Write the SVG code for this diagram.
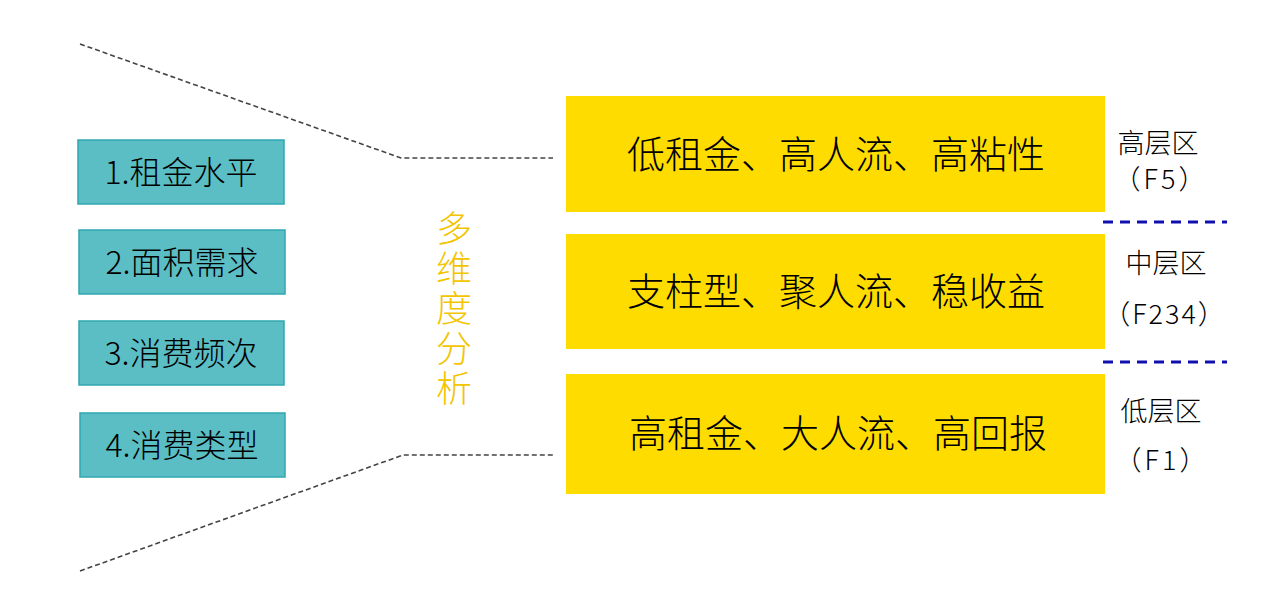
<svg xmlns="http://www.w3.org/2000/svg" width="1280" height="608" viewBox="0 0 1280 608">
<style>
.teal{fill:#5BBEC5;stroke:#2FA7B0;stroke-width:1.5}
.yel{fill:#FFDC00}
.tt{font-family:"Noto Sans CJK SC","Noto Sans",sans-serif;font-size:32px;font-weight:300;fill:#000;text-anchor:middle}
.yt{font-family:"Noto Sans CJK SC","Noto Sans",sans-serif;font-size:38px;font-weight:300;fill:#000;text-anchor:middle}
.vt{font-family:"Noto Sans CJK SC","Noto Sans",sans-serif;font-size:36px;fill:#F2C500;font-weight:300;writing-mode:vertical-rl;letter-spacing:4px}
.rt{font-family:"Noto Sans CJK SC","Liberation Sans",sans-serif;font-size:27px;font-weight:300;fill:#000;text-anchor:middle}
.gd{fill:none;stroke:#444;stroke-width:1.6;stroke-dasharray:5 3}
.bd{fill:none;stroke:#1010B0;stroke-width:3;stroke-dasharray:10 7}
</style>
<rect width="1280" height="608" fill="#fff"/>
<g id="connectors">
<polyline class="gd" points="80,44 401,158 553,158"/>
<polyline class="gd" points="80,571 403,455 553,455"/>
<line class="bd" x1="1103" y1="222" x2="1227" y2="222"/>
<line class="bd" x1="1103" y1="362" x2="1227" y2="362"/>
</g>
<g id="n1"><rect class="teal" x="78" y="140" width="206" height="64"/><text class="tt" x="181" y="184">1.租金水平</text></g>
<g id="n2"><rect class="teal" x="79" y="230" width="206" height="64"/><text class="tt" x="182" y="274">2.面积需求</text></g>
<g id="n3"><rect class="teal" x="79" y="321" width="205" height="64"/><text class="tt" x="181" y="365">3.消费频次</text></g>
<g id="n4"><rect class="teal" x="80" y="413" width="205" height="64"/><text class="tt" x="182" y="457">4.消费类型</text></g>
<g id="vlabel">
<text class="vt" x="454" y="210">多维度分析</text>
</g>
<g id="y1"><rect class="yel" x="566" y="96" width="539" height="116"/><text class="yt" x="836" y="168">低租金、高人流、高粘性</text></g>
<g id="y2"><rect class="yel" x="566" y="234" width="539" height="115"/><text class="yt" x="836" y="305">支柱型、聚人流、稳收益</text></g>
<g id="y3"><rect class="yel" x="566" y="374" width="539" height="120"/><text class="yt" x="838" y="447">高租金、大人流、高回报</text></g>
<g id="r1"><text class="rt" x="1158" y="153">高层区</text><text class="rt" x="1161" y="189" letter-spacing="3">（F5）</text></g>
<g id="r2"><text class="rt" x="1166" y="273">中层区</text><text class="rt" x="1165" y="324" letter-spacing="2">（F234）</text></g>
<g id="r3"><text class="rt" x="1161" y="421">低层区</text><text class="rt" x="1162" y="470" letter-spacing="3">（F1）</text></g>
</svg>
